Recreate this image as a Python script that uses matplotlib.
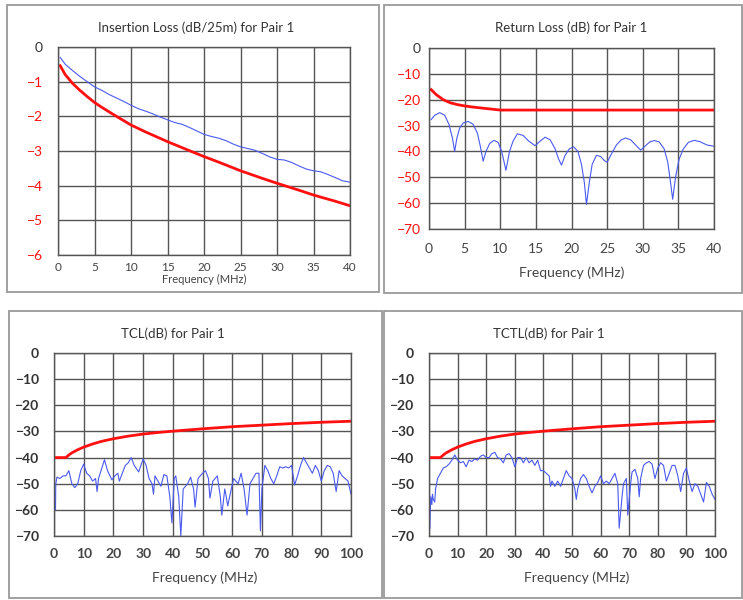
import matplotlib
matplotlib.use("Agg")
from matplotlib import pyplot as plt
from matplotlib.patches import Rectangle

plt.rcParams['font.family'] = ['Lato', 'DejaVu Sans']

# ---- data ----
# insertion loss (dB/25m)
il_freq = [0.3, 1, 2, 3, 4, 5, 6, 7, 8, 9, 10, 11, 12, 13, 14, 15, 16, 17, 18, 19, 20,
           21, 22, 23, 24, 25, 26, 27, 28, 29, 30, 31, 32, 33, 34, 35, 36, 37, 38, 39, 40]
il_meas = [-0.3, -0.5, -0.68, -0.85, -1.0, -1.15, -1.25, -1.37, -1.47, -1.57, -1.68,
           -1.78, -1.85, -1.93, -2.02, -2.1, -2.18, -2.23, -2.32, -2.42, -2.52,
           -2.58, -2.63, -2.7, -2.8, -2.88, -2.93, -2.98, -3.07, -3.17, -3.24,
           -3.26, -3.33, -3.43, -3.52, -3.57, -3.6, -3.68, -3.77, -3.86, -3.9]
il_lim_freq = [0.3, 1, 2, 3, 4, 5, 6, 8, 10, 12, 15, 18, 20, 22, 25, 28, 30, 33, 35, 38, 40]
il_limit = [-0.54, -0.8, -1.05, -1.25, -1.43, -1.6, -1.74, -2.0, -2.25, -2.45, -2.73,
            -2.99, -3.16, -3.32, -3.57, -3.79, -3.93, -4.13, -4.27, -4.45, -4.58]

# return loss (dB)
rl_freq = [0.3, 0.8, 1.5, 2.2, 2.8, 3.3, 3.6, 3.9, 4.3, 4.8, 5.5, 6.2, 6.8, 7.2, 7.6, 8.0,
           8.5, 9.1, 9.7, 10.2, 10.8, 11.3, 11.8, 12.4, 13.2, 14.0, 14.9, 15.6, 16.3, 17.0,
           17.7, 18.2, 18.6, 19.1, 19.7, 20.3, 20.9, 21.4, 21.8, 22.1, 22.5, 22.9, 23.5,
           24.1, 24.6, 25.0, 25.6, 26.3, 27.0, 27.6, 28.3, 29.0, 29.7, 30.3, 31.0, 31.6,
           32.3, 33.0, 33.5, 33.9, 34.2, 34.6, 35.1, 35.7, 36.4, 37.2, 38.0, 39.0, 40.0]
rl_meas = [-27.7, -26, -25, -26, -29.5, -35, -40, -35, -31, -29, -28.4, -29.5, -33, -38,
           -43.8, -40, -37, -35.7, -36.5, -40, -47.3, -40, -36, -33.2, -33.8, -36, -37.8,
           -36, -34.5, -35.5, -39, -43, -45.3, -41.5, -39, -38.2, -40, -45, -52, -60.5,
           -52, -45, -41.5, -42, -43.5, -44.2, -41, -37.5, -35.5, -34.8, -35.5, -37.5,
           -39.5, -38, -36.3, -35.8, -36.3, -39, -44, -52, -58.5, -50, -43, -39, -36.5,
           -35.7, -36.2, -37.5, -38]
rl_lim_freq = [0.3, 1, 2, 3, 4, 5, 6, 7, 8, 9, 10, 40]
rl_limit = [-16.1, -18, -20, -21.2, -21.9, -22.4, -22.8, -23.1, -23.4, -23.7, -24, -24]

# TCL / TCTL limit (dB)
tc_lim_freq = [0, 4, 5, 6, 8, 10, 13, 16, 20, 25, 30, 35, 40, 50, 60, 70, 80, 90, 100]
tc_limit = [-40, -40, -39, -38.2, -37, -36, -34.8, -33.8, -32.8, -31.8, -31, -30.4,
            -29.9, -29, -28.2, -27.6, -27, -26.5, -26.1]

tcl_freq = [0.5, 0.6, 1, 2, 3, 4, 5, 6, 7, 8, 9, 10, 11, 12, 13, 14, 14.5, 15, 17, 18,
            19.5, 20.5, 21.5, 22, 23, 24, 25, 26, 27, 28.5, 30, 31, 32, 33, 33.5, 34, 35,
            36, 37, 38, 39, 39.7, 40.5, 41, 42, 42.7, 43.5, 45, 46, 47, 47.5, 48.5, 50,
            51, 52, 52.5, 53.5, 55, 56, 56.5, 57.5, 58, 58.5, 59.5, 60.5, 62, 63, 64, 65,
            66, 67, 68, 69, 69.5, 70, 71, 72, 73, 74, 75, 76, 77, 78, 79, 80, 81, 82, 83,
            84, 85, 86, 87, 88, 89, 90, 91, 92, 93, 94, 95, 96, 97, 98, 99, 100]
tcl_meas = [-60, -50, -47.5, -48, -47, -47, -45, -50, -51.5, -50, -45, -42.5, -46, -47,
            -49, -48, -53, -48, -40.8, -45, -48.5, -47, -46, -49, -46, -43, -42, -40,
            -43, -45.5, -40.5, -43, -48, -50, -54, -47, -49, -51, -46.5, -47, -55, -65,
            -48, -47, -55, -70, -52, -50, -47.5, -52, -59, -48, -46, -45, -48, -55.5,
            -49, -47, -55, -62, -52, -55, -58.5, -53, -48, -50, -46, -52, -62, -50, -48,
            -46, -46, -68, -52, -43, -45, -48, -50, -47, -43.5, -44, -43.5, -44, -43,
            -50.5, -47, -43, -40, -42, -44, -46, -43, -45, -49, -45, -43, -43.5, -46,
            -53, -45, -47, -48, -49, -54]

tctl_freq = [0.3, 0.6, 1, 1.2, 1.5, 2, 2.3, 3, 4, 5, 6, 7, 8, 9, 10, 11, 12, 13, 14, 15,
             16, 17, 18, 19, 20, 21, 22, 23, 24, 25, 26, 27, 28, 29, 30, 31, 32, 33, 34,
             35, 36, 37, 38, 39, 40, 41, 42, 42.5, 43, 44, 45, 46, 47, 48, 49, 50, 51,
             51.5, 52, 53, 54, 55, 56, 57, 58, 59, 60, 61, 62, 63, 64, 65, 66, 66.5, 67.5,
             68, 69, 69.5, 70.5, 71, 72, 73, 73.5, 74, 75, 76, 77, 78, 79, 80, 81, 82, 83,
             84, 85, 86, 87, 88, 89, 90, 91, 92, 93, 94, 95, 96, 97, 98, 99, 100]
tctl_meas = [-67, -55, -58, -54, -56, -57, -52, -48, -46, -44, -43.5, -42.5, -41, -39,
             -41, -42, -41.5, -43.5, -41, -41.5, -40.5, -41, -39.5, -39, -40, -40, -38.5,
             -38, -40, -40.5, -42, -39, -38.5, -40, -43.5, -40, -40, -42, -40, -42, -41,
             -43, -41, -45, -45, -46, -47, -51, -49, -51, -49, -51, -48, -45, -47, -48,
             -52, -56, -52, -48, -46.5, -48, -51, -53.5, -51, -49.5, -47, -50, -49, -50,
             -48, -46, -50, -67, -55, -50, -48, -62, -50, -45.5, -44.5, -48, -55, -48,
             -43, -42, -41.5, -42.5, -48, -44, -42, -43, -49, -46, -43, -43, -47, -53,
             -46, -44, -49, -53, -50, -51, -54, -57, -49.5, -51, -54, -56]

# ---- figure ----
W, H = 743, 600
fig = plt.figure(figsize=(W / 100, H / 100), dpi=100)

def px_rect(l, t, r, b):
    return [l / W, 1 - b / H, (r - l) / W, (b - t) / H]

# panel frames
for (l, t, r, b) in [(7, 5, 379, 292), (384, 5, 742, 293), (9, 311, 382, 598), (384, 311, 742, 598)]:
    fig.patches.append(Rectangle((l / W, 1 - b / H), (r - l) / W, (b - t) / H,
                                 transform=fig.transFigure, fill=False,
                                 edgecolor='#9a9a9a', linewidth=1.3))

red = '#ff1010'
blue = '#4a5af0'
grid_c = '#555555'


def style_axes(ax, xmax, xstep, ymin, ystep, ylab_red, bold, xfs, yfs, ypad, xpad):
    ax.set_xlim(0, xmax)
    ax.set_ylim(ymin, 0)
    ax.set_xticks(range(0, xmax + 1, xstep))
    yt = list(range(0, ymin - 1, -ystep)) if ystep >= 1 else None
    ax.set_yticks(yt)
    ax.grid(True, color=grid_c, linewidth=1.0)
    for s in ax.spines.values():
        s.set_color(grid_c)
        s.set_linewidth(1.0)
    ax.tick_params(length=0)
    w = 'bold' if bold else 'normal'
    ax.tick_params(axis='x', labelsize=xfs, pad=xpad, labelcolor='#444444')
    ax.tick_params(axis='y', labelsize=yfs, pad=ypad)
    for lab in ax.get_xticklabels():
        lab.set_fontweight(w)
    for lab, v in zip(ax.get_yticklabels(), yt):
        lab.set_fontweight(w)
        lab.set_color(red if (ylab_red and v != 0) else '#333333')


# insertion loss
ax1 = fig.add_axes(px_rect(58, 47, 350, 255))
ax1.plot(il_freq, il_meas, color=blue, lw=0.8)
ax1.plot(il_lim_freq, il_limit, color=red, lw=2.0)
style_axes(ax1, 40, 5, -6, 1, True, False, 8.5, 10, 11, 5)
ax1.set_xlabel('Frequency (MHz)', fontsize=8, color='#444444', va='center')
ax1.xaxis.set_label_coords(0.5, -0.12)
fig.text(196 / W, 1 - 28 / H, 'Insertion Loss (dB/25m) for Pair 1', ha='center', va='center',
         fontsize=9.5, color='#333333')

# return loss
ax2 = fig.add_axes(px_rect(429, 48, 714, 229))
ax2.plot(rl_freq, rl_meas, color=blue, lw=0.8)
ax2.plot(rl_lim_freq, rl_limit, color=red, lw=2.0)
style_axes(ax2, 40, 5, -70, 10, True, False, 10, 10, 6, 10)
ax2.set_xlabel('Frequency (MHz)', fontsize=10, color='#444444', va='center')
ax2.xaxis.set_label_coords(0.5, -0.243)
fig.text(571 / W, 1 - 28 / H, 'Return Loss (dB) for Pair 1', ha='center', va='center',
         fontsize=9.5, color='#333333')

# TCL
ax3 = fig.add_axes(px_rect(54, 353, 351, 536))
ax3.plot(tcl_freq, tcl_meas, color=blue, lw=0.8)
ax3.plot(tc_lim_freq, tc_limit, color=red, lw=2.0)
style_axes(ax3, 100, 10, -70, 10, False, True, 10, 10, 11, 9)
ax3.set_xlabel('Frequency (MHz)', fontsize=10, color='#444444', va='center')
ax3.xaxis.set_label_coords(0.508, -0.23)
fig.text(173 / W, 1 - 334 / H, 'TCL(dB) for Pair 1', ha='center', va='center',
         fontsize=9.5, color='#333333')

# TCTL
ax4 = fig.add_axes(px_rect(429, 353, 715, 536))
ax4.plot(tctl_freq, tctl_meas, color=blue, lw=0.8)
ax4.plot(tc_lim_freq, tc_limit, color=red, lw=2.0)
style_axes(ax4, 100, 10, -70, 10, False, True, 10, 10, 11, 9)
ax4.set_xlabel('Frequency (MHz)', fontsize=10, color='#444444', va='center')
ax4.xaxis.set_label_coords(0.515, -0.23)
fig.text(549 / W, 1 - 334 / H, 'TCTL(dB) for Pair 1', ha='center', va='center',
         fontsize=9.5, color='#333333')

fig.savefig('out.png', dpi=100)
